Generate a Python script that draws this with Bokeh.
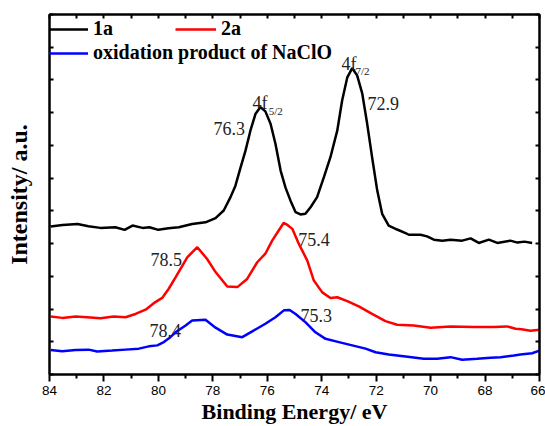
from bokeh.plotting import figure
from bokeh.models import Range1d, LinearAxis, FixedTicker, Legend, LegendItem, CustomJSTickFormatter
from bokeh.core.properties import value
from bokeh.embed import file_html
from bokeh.resources import INLINE

# ---- data (binding energy in eV, intensity in a.u.) ----
ev_1a = [83.96, 83.52, 82.97, 82.57, 82.13, 81.58, 81.24, 80.95, 80.58, 80.33, 80.00, 79.63,
         79.25, 78.76, 78.27, 77.90, 77.60, 77.35, 77.17, 76.98, 76.80, 76.62, 76.43, 76.25,
         76.07, 75.88, 75.70, 75.51, 75.33, 75.15, 74.96, 74.78, 74.60, 74.41, 74.17, 73.92,
         73.68, 73.43, 73.25, 73.06, 72.88, 72.70, 72.51, 72.33, 72.15, 71.96, 71.78, 71.54,
         71.23, 70.92, 70.80, 70.37, 70.13, 69.88, 69.57, 69.27, 68.84, 68.53, 68.23, 67.86,
         67.55, 67.07, 66.81, 66.55, 66.27]
int_1a = [4.52, 4.57, 4.60, 4.53, 4.48, 4.50, 4.42, 4.55, 4.48, 4.50, 4.42, 4.47,
          4.50, 4.60, 4.65, 4.78, 5.01, 5.42, 5.77, 6.33, 6.84, 7.45, 7.97, 8.17,
          8.04, 7.66, 7.05, 6.23, 5.71, 5.32, 4.96, 4.89, 4.91, 5.11, 5.42, 6.03,
          6.64, 7.45, 8.37, 9.08, 9.36, 9.14, 8.58, 7.66, 6.64, 5.62, 4.91, 4.55,
          4.43, 4.32, 4.27, 4.27, 4.22, 4.12, 4.09, 4.12, 4.09, 4.16, 4.02, 4.12,
          4.02, 4.09, 4.03, 4.06, 4.02]

ev_2a = [83.96, 83.53, 83.04, 82.62, 82.13, 81.64, 81.21, 80.84, 80.47, 80.17, 79.86, 79.62,
         79.37, 78.94, 78.57, 78.21, 77.90, 77.47, 77.10, 76.74, 76.37, 76.07, 75.82, 75.58,
         75.40, 75.26, 75.08, 74.84, 74.53, 74.29, 73.98, 73.68, 73.43, 73.06, 72.64, 72.15,
         71.66, 71.23, 70.62, 70.00, 69.27, 68.41, 67.68, 67.19, 66.88, 66.66, 66.33, 66.00]
int_2a = [1.77, 1.73, 1.77, 1.75, 1.72, 1.77, 1.75, 1.85, 1.98, 2.18, 2.34, 2.62,
          2.97, 3.58, 3.89, 3.53, 3.13, 2.69, 2.67, 2.92, 3.43, 3.69, 4.09, 4.40,
          4.63, 4.57, 4.45, 3.99, 3.48, 2.87, 2.51, 2.34, 2.36, 2.24, 2.08, 1.85,
          1.63, 1.52, 1.50, 1.43, 1.47, 1.45, 1.45, 1.47, 1.40, 1.38, 1.34, 1.37]

ev_ox = [83.96, 83.53, 83.04, 82.56, 82.25, 81.70, 81.21, 80.72, 80.35, 80.04, 79.80, 79.56,
         79.37, 79.00, 78.76, 78.27, 77.90, 77.47, 76.92, 76.55, 76.07, 75.70, 75.39, 75.18,
         74.96, 74.60, 74.23, 73.86, 73.37, 72.88, 72.39, 72.02, 71.54, 70.92, 70.25, 69.76,
         69.27, 68.84, 68.29, 67.80, 67.43, 66.94, 66.70, 66.27, 66.00]
int_ox = [0.75, 0.71, 0.75, 0.76, 0.70, 0.73, 0.76, 0.79, 0.86, 0.89, 0.99, 1.14,
          1.29, 1.50, 1.65, 1.67, 1.43, 1.22, 1.14, 1.32, 1.55, 1.75, 1.96, 1.97,
          1.85, 1.60, 1.29, 1.09, 0.99, 0.89, 0.79, 0.68, 0.61, 0.55, 0.48, 0.48,
          0.53, 0.45, 0.48, 0.51, 0.53, 0.58, 0.61, 0.65, 0.73]

series_labels = ["1a", "2a", "oxidation product of NaClO"]

# peak annotations
ann_text = ["76.3", "72.9", "78.5", "75.4", "78.4", "75.3", "4f", "4f"]
ann_x = [77.98, 72.32, 80.29, 74.86, 80.33, 74.78, 76.54, 73.27]
ann_y = [7.53, 8.28, 3.50, 4.14, 1.35, 1.79, 8.29, 9.48]
sub_text = ["5/2", "7/2"]
sub_x = [75.95, 72.76]
sub_y = [8.04, 9.28]

x_major = [84, 82, 80, 78, 76, 74, 72, 70, 68, 66]
x_minor = [83, 81, 79, 77, 75, 73, 71, 69, 67]
y_ticks = [0, 1, 2, 3, 4, 5, 6, 7, 8, 9, 10, 11]

SERIF = "Liberation Serif"
SANS = "Liberation Sans"

p = figure(width=545, height=426, x_range=Range1d(84, 66), y_range=Range1d(0, 11),
           output_backend="svg", toolbar_location=None,
           min_border_left=49, min_border_right=6, min_border_top=14, min_border_bottom=52)
p.xgrid.visible = False
p.ygrid.visible = False
p.outline_line_color = "black"
p.outline_line_width = 2
p.background_fill_color = "white"
p.border_fill_color = "white"

blank = CustomJSTickFormatter(code="return ''")

# bottom axis
xa = p.xaxis[0]
xa.ticker = FixedTicker(ticks=x_major, minor_ticks=x_minor)
xa.major_tick_in = 0
xa.major_tick_out = 7
xa.minor_tick_in = 0
xa.minor_tick_out = 4
xa.axis_line_width = 2
xa.major_tick_line_width = 2
xa.minor_tick_line_width = 2
xa.major_label_text_font = SANS
xa.major_label_text_font_size = "13.5px"
xa.major_label_text_color = "black"
xa.major_label_standoff = 4
xa.axis_label = "Binding Energy/ eV"
xa.axis_label_text_font = SERIF
xa.axis_label_text_font_style = "bold"
xa.axis_label_text_font_size = "22px"
xa.axis_label_text_color = "black"
xa.axis_label_standoff = 1

# left axis
ya = p.yaxis[0]
ya.ticker = FixedTicker(ticks=y_ticks, minor_ticks=[])
ya.formatter = blank
ya.major_tick_in = 4
ya.major_tick_out = 0
ya.major_tick_line_width = 2
ya.axis_line_width = 2
ya.major_label_standoff = 0
ya.axis_label = "Intensity/ a.u."
ya.axis_label_text_font = SERIF
ya.axis_label_text_font_style = "bold"
ya.axis_label_text_font_size = "24px"
ya.axis_label_text_color = "black"
ya.axis_label_standoff = 18

# mirrored axes (ticks only, pointing inward)
top = LinearAxis(ticker=FixedTicker(ticks=x_major, minor_ticks=x_minor), formatter=blank,
                 major_tick_in=4, major_tick_out=0, minor_tick_in=4, minor_tick_out=0,
                 major_tick_line_width=2, minor_tick_line_width=2, axis_line_width=2,
                 major_label_standoff=0)
p.add_layout(top, "above")
right = LinearAxis(ticker=FixedTicker(ticks=y_ticks, minor_ticks=[]), formatter=blank,
                   major_tick_in=4, major_tick_out=0, major_tick_line_width=2,
                   axis_line_width=2, major_label_standoff=0)
p.add_layout(right, "right")

r1 = p.line(ev_1a, int_1a, line_color="black", line_width=2.5)
r2 = p.line(ev_2a, int_2a, line_color="#ff0000", line_width=2.5)
r3 = p.line(ev_ox, int_ox, line_color="#0000ff", line_width=2.5)

p.text(x=ann_x, y=ann_y, text=ann_text, text_font=value(SERIF), text_font_size="18px",
       text_color="#222222", text_align="left", text_baseline="alphabetic")
p.text(x=sub_x, y=sub_y, text=sub_text, text_font=value(SERIF), text_font_size="11px",
       text_color="#222222", text_align="left", text_baseline="alphabetic")

H = 360  # frame height in px (426 - 14 - 52)
common = dict(label_text_font=SERIF, label_text_font_style="bold", label_text_font_size="20px",
              label_text_color="black", glyph_width=41, glyph_height=22, label_height=22,
              label_standoff=5, padding=0, margin=0, border_line_color=None,
              background_fill_alpha=0)
leg1 = Legend(items=[LegendItem(label=series_labels[0], renderers=[r1]),
                     LegendItem(label=series_labels[1], renderers=[r2])],
              orientation="horizontal", spacing=62, location=(-2, H - 26), **common)
leg2 = Legend(items=[LegendItem(label=series_labels[2], renderers=[r3])],
              orientation="horizontal", location=(-2, H - 50), **common)
p.add_layout(leg1)
p.add_layout(leg2)

open("out.html", "w").write(file_html(p, INLINE))
